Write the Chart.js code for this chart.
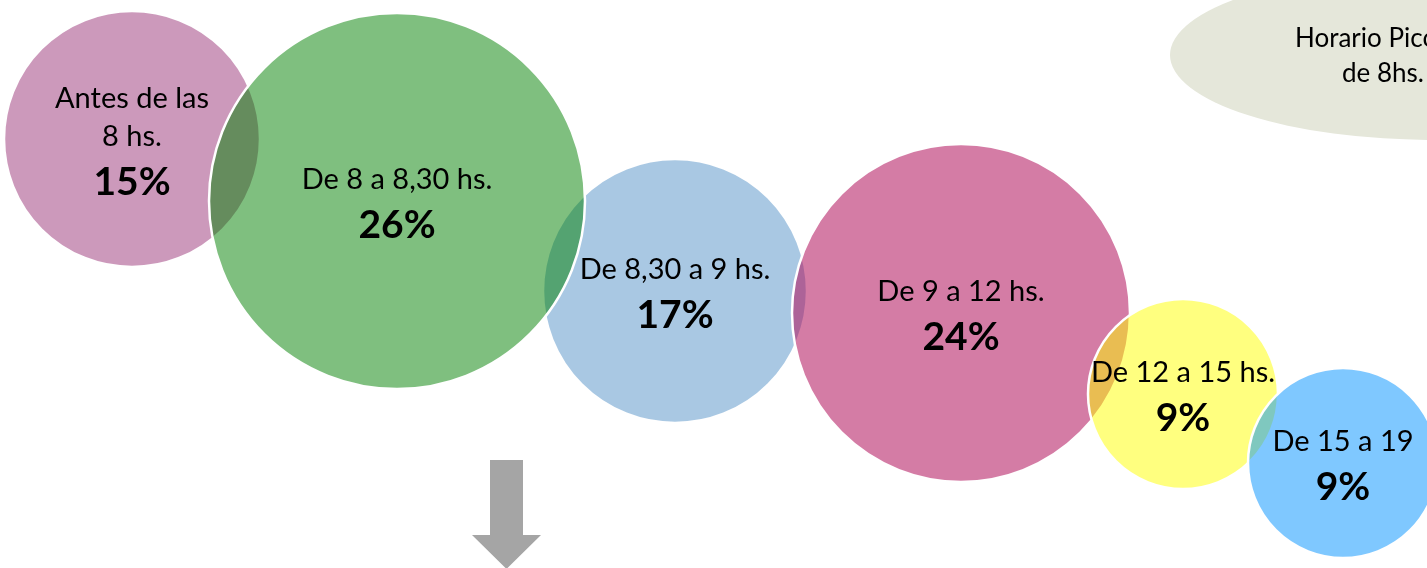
<!DOCTYPE html>
<html>
<head>
<meta charset="utf-8">
<title>Horarios</title>
<script src="https://cdn.jsdelivr.net/npm/chart.js@4.4.1/dist/chart.umd.min.js"></script>
<style>
	html, body { margin: 0; padding: 0; background: #fff; }
	#wrap { position: relative; width: 1427px; height: 568px; overflow: hidden; }
</style>
</head>
<body>
<div id="wrap"><canvas id="horariosChart"></canvas></div>
<script>
// categories and values
const categories = ['Antes de las 8 hs.', 'De 8 a 8,30 hs.', 'De 8,30 a 9 hs.', 'De 9 a 12 hs.', 'De 12 a 15 hs.', 'De 15 a 19'];
const labelLines = [['Antes de las', '8 hs.'], ['De 8 a 8,30 hs.'], ['De 8,30 a 9 hs.'], ['De 9 a 12 hs.'], ['De 12 a 15 hs.'], ['De 15 a 19']];
const percentages = [15, 26, 17, 24, 9, 9];

// bubble series (x, y in chart units, r = bubble size)
const bubbleX = [132, 397, 675, 961, 1183, 1343];
const bubbleY = [139, 201, 291, 313, 394, 463];
const bubbleR = [128, 188, 132, 169, 95, 95];

// which bubble sits on top of which
const drawOrder = [0, 2, 1, 3, 4, 5];

const fills = [
	'rgba(153, 51, 119, 0.5)',
	'rgba(0, 128, 0, 0.5)',
	'rgba(83, 145, 199, 0.5)',
	'rgba(177, 17, 91, 0.55)',
	'rgba(255, 255, 0, 0.5)',
	'rgba(0, 145, 255, 0.5)'
];

const noteLines = ['Horario Pico antes', 'de 8hs.'];

const FONT = 'Lato, "Open Sans", sans-serif';

const points = drawOrder.map(i => ({ x: bubbleX[i], y: bubbleY[i], r: bubbleR[i] }));

const decorPlugin = {
	id: 'decor',
	beforeDatasetsDraw(chart) {
		const ctx = chart.ctx;
		const xs = chart.scales.x;
		const ys = chart.scales.y;

		// note ellipse, top right
		ctx.save();
		ctx.fillStyle = '#E5E7DA';
		ctx.beginPath();
		ctx.ellipse(xs.getPixelForValue(1435), ys.getPixelForValue(55), 265, 85, 0, 0, Math.PI * 2);
		ctx.fill();
		ctx.fillStyle = '#000';
		ctx.font = '26px ' + FONT;
		ctx.textAlign = 'left';
		ctx.textBaseline = 'alphabetic';
		ctx.fillText(noteLines[0], xs.getPixelForValue(1295), ys.getPixelForValue(47));
		ctx.fillText(noteLines[1], xs.getPixelForValue(1342), ys.getPixelForValue(82));

		// grey arrow
		const ax = xs.getPixelForValue(506.5);
		ctx.fillStyle = '#A5A5A5';
		ctx.beginPath();
		ctx.moveTo(ax - 16.5, ys.getPixelForValue(460));
		ctx.lineTo(ax + 16.5, ys.getPixelForValue(460));
		ctx.lineTo(ax + 16.5, ys.getPixelForValue(535));
		ctx.lineTo(ax + 34.5, ys.getPixelForValue(535));
		ctx.lineTo(ax, ys.getPixelForValue(569));
		ctx.lineTo(ax - 34.5, ys.getPixelForValue(535));
		ctx.lineTo(ax - 16.5, ys.getPixelForValue(535));
		ctx.closePath();
		ctx.fill();
		ctx.restore();
	},
	afterDatasetsDraw(chart) {
		const ctx = chart.ctx;
		const meta = chart.getDatasetMeta(0);
		ctx.save();
		ctx.fillStyle = '#000';
		ctx.textAlign = 'center';
		ctx.textBaseline = 'alphabetic';
		meta.data.forEach(function(pt, j) {
			const i = drawOrder[j];
			const lines = labelLines[i];
			const n = lines.length;
			// baseline of first line so the block sits around the bubble centre
			let y = pt.y + 2 - (20 + 38 * (n - 1) + 49) / 2 + 20;
			ctx.font = '29px ' + FONT;
			lines.forEach(function(t) {
				ctx.fillText(t, pt.x, y);
				y += 38;
			});
			y += 11;
			ctx.font = 'bold 39px ' + FONT;
			ctx.fillText(percentages[i] + '%', pt.x, y);
		});
		ctx.restore();
	}
};

new Chart(document.getElementById('horariosChart').getContext('2d'), {
	type: 'bubble',
	data: {
		labels: drawOrder.map(i => categories[i]),
		datasets: [{
			data: points,
			backgroundColor: drawOrder.map(i => fills[i]),
			borderColor: '#ffffff',
			borderWidth: 2.5,
			hoverBorderWidth: 2.5,
			clip: false
		}]
	},
	options: {
		responsive: true,
		maintainAspectRatio: false,
		animation: false,
		events: [],
		layout: { padding: 0, autoPadding: false },
		scales: {
			x: { type: 'linear', min: 0, max: 1427, display: false },
			y: { type: 'linear', min: 0, max: 568, reverse: true, display: false }
		},
		plugins: {
			legend: { display: false },
			tooltip: { enabled: false }
		}
	},
	plugins: [decorPlugin]
});
</script>
</body>
</html>
